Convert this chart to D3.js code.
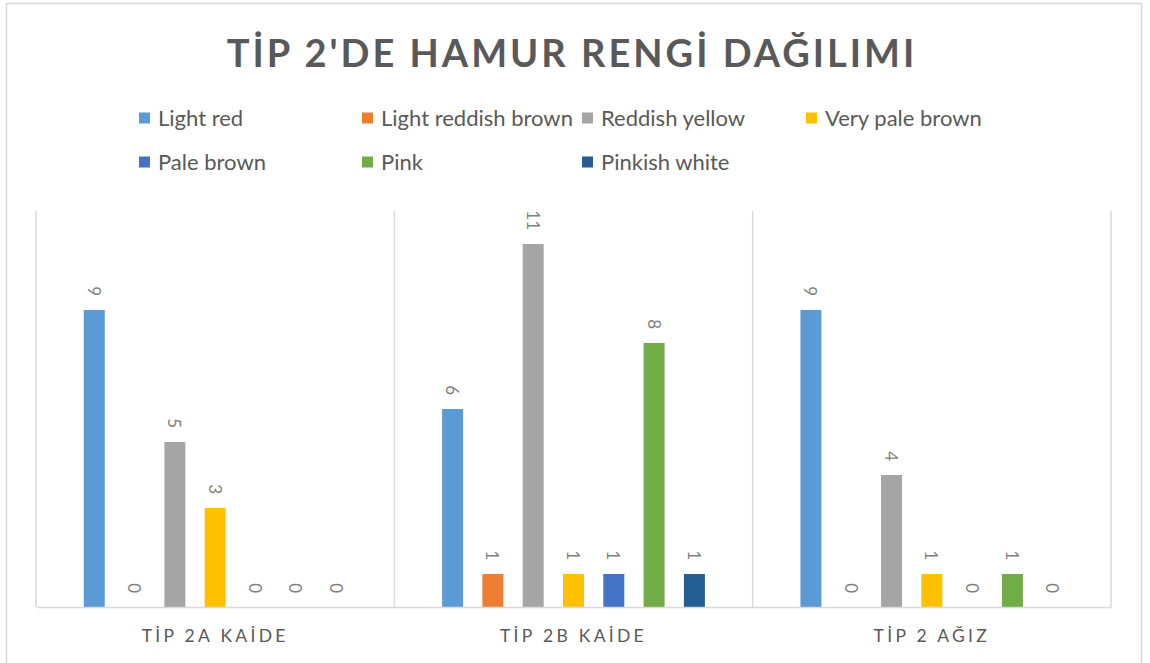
<!DOCTYPE html>
<html>
<head>
<meta charset="utf-8">
<script src="https://cdn.jsdelivr.net/npm/d3@7"></script>
<style>
  html, body { margin: 0; padding: 0; background: #ffffff; }
  svg { display: block; }
</style>
</head>
<body>
<svg id="chart" width="1150" height="663"></svg>
<script>
// Groups, series and counts
const categories = ["TİP 2A KAİDE", "TİP 2B KAİDE", "TİP 2 AĞIZ"];
const seriesNames = ["Light red", "Light reddish brown", "Reddish yellow", "Very pale brown", "Pale brown", "Pink", "Pinkish white"];
const seriesColors = ["#5B9BD5", "#ED7D31", "#A5A5A5", "#FFC000", "#4472C4", "#70AD47", "#255E91"];
const tip2aKaide = [9, 0, 5, 3, 0, 0, 0];
const tip2bKaide = [6, 1, 11, 1, 1, 8, 1];
const tip2Agiz   = [9, 0, 4, 1, 0, 1, 0];
const groupValues = [tip2aKaide, tip2bKaide, tip2Agiz];
const titleText = "TİP 2'DE HAMUR RENGİ DAĞILIMI";

const svg = d3.select("#chart");
const font = "Lato, 'Open Sans', sans-serif";
const textColor = "#595959";
const gridColor = "#D9D9D9";

// chart frame
svg.append("rect")
  .attr("x", 6.5).attr("y", 3.5)
  .attr("width", 1135).attr("height", 700)
  .attr("fill", "#ffffff")
  .attr("stroke", gridColor).attr("stroke-width", 1.5);

// title
svg.append("text")
  .attr("x", 572).attr("y", 67)
  .attr("text-anchor", "middle")
  .attr("font-family", font)
  .attr("font-weight", "bold")
  .attr("font-size", 38)
  .attr("letter-spacing", 3)
  .attr("fill", textColor)
  .text(titleText);

// legend: four entries per row
const legendCols = [139, 362, 582, 806];
const legendRows = [118, 162];
const legend = svg.append("g");
seriesNames.forEach((name, i) => {
  const col = i % 4, row = Math.floor(i / 4);
  const g = legend.append("g")
    .attr("transform", `translate(${legendCols[col]},${legendRows[row]})`);
  g.append("rect").attr("x", 0).attr("y", -5.5).attr("width", 11).attr("height", 11)
    .attr("fill", seriesColors[i]);
  g.append("text").attr("x", 19).attr("y", 7.5)
    .attr("font-family", font).attr("font-size", 22)
    .attr("fill", textColor).text(name);
});

// scales
const plotLeft = 36, plotRight = 1111, plotTop = 211, plotBottom = 607;
const x0 = d3.scaleBand().domain(categories).range([plotLeft, plotRight]).padding(0);
const x1 = d3.scaleBand().domain(seriesNames).range([0, x0.bandwidth()])
  .paddingInner(0.479).paddingOuter(1.185);
const y = d3.scaleLinear().domain([0, 12]).range([plotBottom, plotTop]);

// group separators
const seps = [plotLeft].concat(categories.map(c => x0(c) + x0.bandwidth()));
svg.append("g").selectAll("line").data(seps).join("line")
  .attr("x1", d => d).attr("x2", d => d)
  .attr("y1", plotTop).attr("y2", plotBottom)
  .attr("stroke", gridColor).attr("stroke-width", 1.5);

// bars and labels
const groups = svg.append("g").selectAll("g").data(categories).join("g")
  .attr("transform", c => `translate(${x0(c)},0)`);

groups.selectAll("rect")
  .data((c, gi) => seriesNames.map((s, si) => ({ s, si, v: groupValues[gi][si] })))
  .join("rect")
  .attr("x", d => x1(d.s))
  .attr("y", d => y(d.v))
  .attr("width", x1.bandwidth())
  .attr("height", d => y(0) - y(d.v))
  .attr("fill", d => seriesColors[d.si]);

groups.selectAll("text.val")
  .data((c, gi) => seriesNames.map((s, si) => ({ s, si, v: groupValues[gi][si] })))
  .join("text")
  .attr("class", "val")
  .attr("transform", d => `translate(${x1(d.s) + x1.bandwidth() / 2},${y(d.v) - 14}) rotate(90)`)
  .attr("text-anchor", "end")
  .attr("dominant-baseline", "central")
  .attr("font-family", font)
  .attr("font-size", 17)
  .attr("fill", "#7F7F7F")
  .text(d => d.v);

// baseline axis
const xAxis = svg.append("g")
  .attr("transform", `translate(0,${plotBottom})`)
  .call(d3.axisBottom(x0).tickSize(0).tickPadding(0));
xAxis.select(".domain").attr("stroke", gridColor).attr("stroke-width", 1.5);
xAxis.selectAll(".tick text")
  .attr("y", 35)
  .attr("dy", 0)
  .attr("font-family", font)
  .attr("font-size", 17.5)
  .attr("letter-spacing", 3.3)
  .attr("fill", textColor);
</script>
</body>
</html>
